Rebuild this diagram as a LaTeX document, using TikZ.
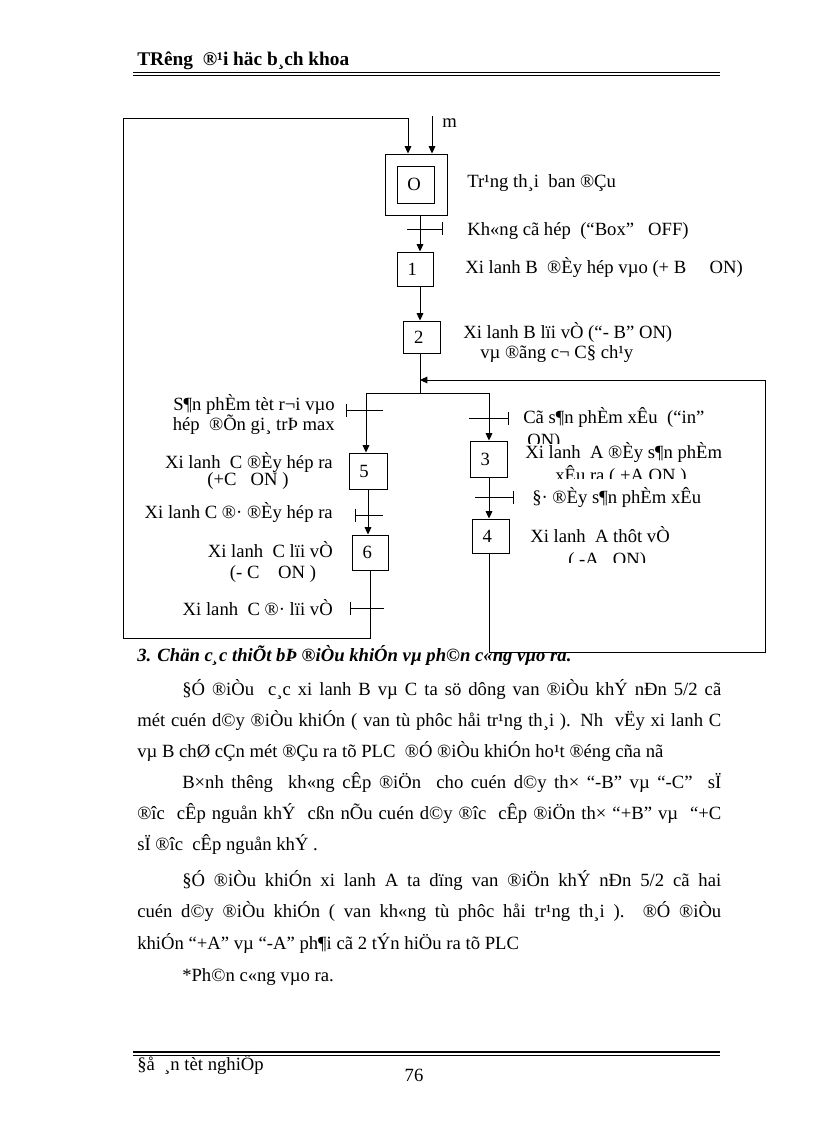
\documentclass[tikz,border=0pt]{standalone}
\usepackage{fontspec}
\setmainfont{Liberation Serif}
\usetikzlibrary{arrows.meta}
\begin{document}
\begin{tikzpicture}[x=0.75pt,y=-0.75pt,
  every node/.style={inner sep=0pt, font=\fontsize{14}{16}\selectfont},
  ln/.style={line width=0.7pt},
  arr/.style={ln,-{Triangle[length=5.5pt,width=5pt]}},
  stepbox/.style={draw,line width=0.7pt,inner sep=0pt},
  lbl/.style={anchor=base west},
  lblr/.style={anchor=base east},
  pics/trR/.style 2 args={code={\draw[ln] (-#1,0) -- (#2,0) (#2,-6.5) -- (#2,6.5);}},
  pics/trL/.style 2 args={code={\draw[ln] (-#1,0) -- (#2,0) (-#1,-6.5) -- (-#1,6.5);}},
]
\useasboundingbox (0,0) rectangle (816,1123);

% header
\node[lbl, font=\fontsize{14.5}{16}\selectfont\bfseries] (hd) at (137,66) {TRêng\ \ ®¹i häc b¸ch khoa};
\draw[line width=1pt] (133,72.5) -- (720,72.5);
\draw[line width=0.6pt] (133,75.5) -- (720,75.5);

% heading below diagram (partly covered)
\node[lbl, font=\fontsize{14}{16}\selectfont\bfseries\itshape] (h3) at (137,661) {3. Chän c¸c thiÕt bÞ ®iÒu khiÓn vµ ph©n c«ng vµo ra.};
\fill[white] (489,380) rectangle (765,652);

% steps
\node[stepbox, minimum width=46.5pt, minimum height=45.75pt] (s0o) at (416,184.5) {};
\node[stepbox, minimum width=27.75pt, minimum height=27.75pt] (s0i) at (415.5,184.5) {O\kern2pt};
\node[stepbox, minimum width=27pt, minimum height=25.5pt] (s1) at (415,269) {1\kern4pt};
\node[stepbox, minimum width=27.75pt, minimum height=24pt] (s2) at (421.5,337) {2\kern4pt};
\node[stepbox, minimum width=27.75pt, minimum height=27pt] (s3) at (488.5,459) {3\kern5pt};
\node[stepbox, minimum width=27.75pt, minimum height=25.5pt] (s4) at (490.5,536) {4\kern5pt};
\node[stepbox, minimum width=28.5pt, minimum height=27pt] (s5) at (368,471) {5\kern6pt};
\node[stepbox, minimum width=27pt, minimum height=26.25pt] (s6) at (370,552.5) {6\kern4pt};

% coordinates
\coordinate (c0) at (420,0);
\coordinate (br) at (421,393);
\coordinate (bl) at (366,393);
\coordinate (brr) at (489,393);
\coordinate (c5) at (368,0);
\coordinate (c6) at (370,0);
\coordinate (lp1) at (370,638);
\coordinate (lp2) at (123,638);
\coordinate (lp3) at (123,118);
\coordinate (lp4) at (408,118);
\coordinate (rp1) at (489,652);
\coordinate (rp2) at (765,652);
\coordinate (rp3) at (765,380);
\coordinate (rp4) at (421,380);
\coordinate (mt) at (432,116);

% connectors
\draw[arr] (mt) -- (mt |- s0o.north);
\draw[arr] (s0o.south -| c0) -- (s1.north -| c0);
\draw[arr] (s1.south -| c0) -- (s2.north -| c0);
\draw[ln] (s2.south -| c0) -- (br -| c0);
\draw[ln] (bl) -- (brr);
\draw[arr] (bl) -- (bl |- s5.north);
\draw[arr] (brr) -- (brr |- s3.north);
\draw[arr] (s3.south -| brr) -- (s4.north -| brr);
\draw[arr] (s5.south -| c5) -- (s6.north -| c5);
\draw[arr] (s6.south -| c6) -- (lp1) -- (lp2) -- (lp3) -- (lp4) -- (lp4 |- s0o.north);
\draw[arr] (s4.south -| brr) -- (rp1) -- (rp2) -- (rp3) -- (rp4 -| c0);

% transitions
\pic at (420,229) {trR={13}{22}};
\pic at (366,410) {trL={20}{17}};
\pic at (489,418) {trR={20}{19}};
\pic at (489,497) {trR={14}{24}};
\pic at (368,515) {trL={13}{15}};
\pic at (370,608) {trL={20}{14}};

% labels
\node[lbl] (lm) at (442,128) {m};
\node[lbl] (l0) at (467,188) {Tr¹ng th¸i\ \ ban ®Çu};
\node[lbl] (t0) at (467,235) {Kh«ng cã hép\ \ (“Box”\ \ \ OFF)};
\node[lbl] (l1) at (465,273) {Xi lanh B\ \ ®Èy hép vµo (+ B\ \ \ \ \ ON)};
\node[lbl] (l2a) at (463,338) {Xi lanh B lïi vÒ (“- B” ON)};
\node[lbl] (l2b) at (480,358) {vµ ®ãng c¬ C§ ch¹y};

\node[lblr] (t1a) at (335,410) {S¶n phÈm tèt r¬i vµo};
\node[lblr] (t1b) at (335,430) {hép\ \ ®Õn gi¸ trÞ max};
\node[lblr] (l5a) at (333,468) {Xi lanh\ \ C ®Èy hép ra};
\node[anchor=base] (l5b) at (248,485) {(+C\ \ \ ON )};
\node[lblr] (t4) at (333,518) {Xi lanh C ®· ®Èy hép ra};
\node[lblr] (l6a) at (333,557) {Xi lanh\ \ C lïi vÒ};
\node[anchor=base] (l6b) at (273,578) {(- C\ \ \ \ ON )};
\node[lblr] (t5) at (333,615) {Xi lanh\ \ C ®· lïi vÒ};

\node[lbl] (t2a) at (523,423) {Cã s¶n phÈm xÊu\ \ (“in”};
\begin{scope}
\clip (515,426) rectangle (620,443);
\node[lbl] (t2b) at (527,446) {ON)};
\end{scope}
\node[lbl] (l3a) at (525,458) {Xi lanh\ \ A ®Èy s¶n phÈm};
\begin{scope}
\clip (540,462) rectangle (720,478);
\node[lbl] (l3b) at (555,481) {xÊu ra ( +A ON )};
\end{scope}
\node[lbl] (t3) at (532,503) {§· ®Èy s¶n phÈm xÊu};
\node[lbl] (l4a) at (530,542) {Xi lanh\ \ A thôt vÒ};
\begin{scope}
\clip (560,545) rectangle (660,562);
\node[lbl] (l4b) at (568,565) {( -A\ \ \ ON)};
\end{scope}

% body text
\node[lbl] (p1) at (182,695) {\makebox[404.25pt][s]{§Ó ®iÒu\ \ c¸c xi lanh B vµ C ta sö dông van ®iÒu khÝ nÐn 5/2 cã}};
\node[lbl] (p2) at (137,726) {\makebox[438pt][s]{mét cuén d©y ®iÒu khiÓn ( van tù phôc håi tr¹ng th¸i ). Nh\ \ vËy xi lanh C}};
\node[lbl] (p3) at (137,757) {vµ B chØ cÇn mét ®Çu ra tõ PLC\ \ ®Ó ®iÒu khiÓn ho¹t ®éng cña nã};
\node[lbl] (p4) at (182,788) {\makebox[404.25pt][s]{B×nh thêng\ \ kh«ng cÊp ®iÖn\ \ cho cuén d©y th× “-B” vµ “-C”\ \ sÏ}};
\node[lbl] (p5) at (137,819) {\makebox[438pt][s]{®îc\ \ cÊp nguån khÝ\ \ cßn nÕu cuén d©y ®îc\ \ cÊp ®iÖn th× “+B” vµ\ \ “+C}};
\node[lbl] (p6) at (137,850) {sÏ ®îc\ \ cÊp nguån khÝ .};
\node[lbl] (p7) at (182,886) {\makebox[404.25pt][s]{§Ó ®iÒu khiÓn xi lanh A ta dïng van ®iÖn khÝ nÐn 5/2 cã hai}};
\node[lbl] (p8) at (137,917) {\makebox[438pt][s]{cuén d©y ®iÒu khiÓn ( van kh«ng tù phôc håi tr¹ng th¸i ). ®Ó ®iÒu}};
\node[lbl] (p9) at (137,949) {khiÓn “+A” vµ “-A” ph¶i cã 2 tÝn hiÖu ra tõ PLC};
\node[lbl] (p10) at (182,981) {*Ph©n c«ng vµo ra.};

% footer
\draw[line width=1.6pt] (133,1052) -- (720,1052);
\draw[line width=0.6pt] (133,1055.5) -- (720,1055.5);
\node[lbl] (ft) at (137,1070) {§å\ \ ¸n tèt nghiÖp};
\node[anchor=base] (pg) at (414,1081) {76};
\end{tikzpicture}
\end{document}
